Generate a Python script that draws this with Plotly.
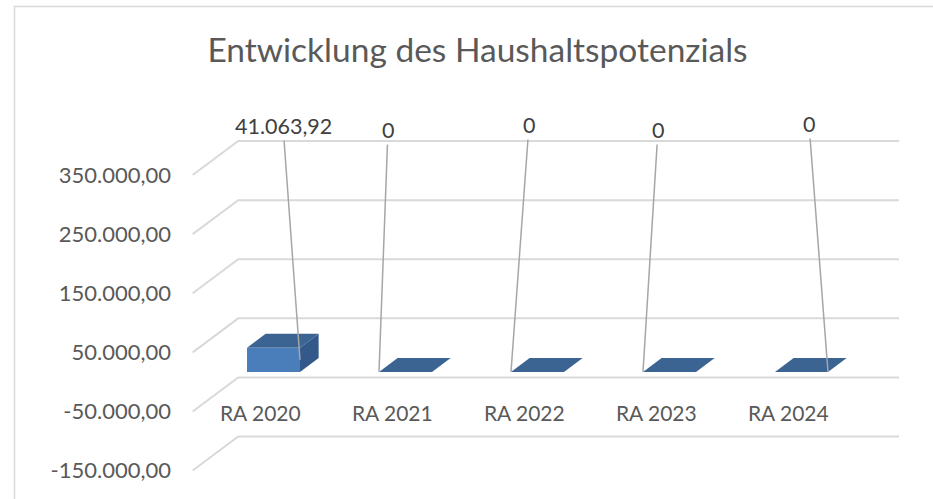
import plotly.graph_objects as go

# ---------------- data ----------------
categories = ["RA 2020", "RA 2021", "RA 2022", "RA 2023", "RA 2024"]
values = [41063.92, 0, 0, 0, 0]
value_labels = ["41.063,92", "0", "0", "0", "0"]
y_tick_values = [350000, 250000, 150000, 50000, -50000, -150000]
y_tick_labels = ["350.000,00", "250.000,00", "150.000,00", "50.000,00", "-50.000,00", "-150.000,00"]
title_text = "Entwicklung des Haushaltspotenzials"

# ---------------- layout constants ----------------
W, H = 933, 499
ML = 180
PX_PER_CAT = 132.0        # pixels per category step
PX_PER_VAL = 0.000591     # pixels per value unit
X0_PX = 260.3             # pixel x of category 0 (front plane)
Y0_PX = 381.9             # pixel y of value 0 (front plane)

x_range = [(ML - X0_PX) / PX_PER_CAT, (W - X0_PX) / PX_PER_CAT]
y_range = [(Y0_PX - H) / PX_PER_VAL, Y0_PX / PX_PER_VAL]

# 3D depth vector (full depth of the plot box) in data units
DEPTH_X = 45.5 / PX_PER_CAT
DEPTH_Y = 34.0 / PX_PER_VAL
GRID_X_LEFT = (192.7 - X0_PX) / PX_PER_CAT
GRID_X_RIGHT = (899.0 - X0_PX) / PX_PER_CAT

BAR_W = 53.0 / PX_PER_CAT
D_FRONT = 0.29
D_BACK = 0.70

FRONT_COLOR = "#4a7ebb"
TOP_COLOR = "#3c6493"
SIDE_COLOR = "#33588a"
GRID_COLOR = "#d9d9d9"
LEADER_COLOR = "#a6a6a6"
TEXT_COLOR = "#595959"
LABEL_COLOR = "#404040"
FONT = "Lato"

# data label placement: (pixel offset from bar front centre, pixel y of label centre)
LABEL_PLACEMENT = [(9.5, 126), (-17.5, 130), (-8.5, 125), (-11.5, 130), (7.5, 124)]


def px_x(xv):
    return X0_PX + xv * PX_PER_CAT


def px_y(yv):
    return Y0_PX - yv * PX_PER_VAL


def at_depth(x, y, d):
    return x + d * DEPTH_X, y + d * DEPTH_Y


fig = go.Figure()

# ---------------- gridlines (side wall + back wall) ----------------
gx, gy = [], []
for t in y_tick_values:
    bx, by = at_depth(GRID_X_LEFT, t, 1.0)
    gx += [GRID_X_LEFT, bx, GRID_X_RIGHT, None]
    gy += [t, by, by, None]
fig.add_trace(go.Scatter(x=gx, y=gy, mode="lines", line=dict(color=GRID_COLOR, width=2),
                         hoverinfo="skip", showlegend=False))

# ---------------- bars ----------------
# front faces
fig.add_trace(go.Bar(
    x=[i + D_FRONT * DEPTH_X for i in range(len(categories))],
    y=values,
    base=D_FRONT * DEPTH_Y,
    width=BAR_W,
    marker=dict(color=FRONT_COLOR, line=dict(width=0)),
    hoverinfo="skip", showlegend=False,
))

for i, v in enumerate(values):
    xl, xr = i - BAR_W / 2, i + BAR_W / 2
    # side face
    if v > 0:
        p = [at_depth(xr, 0, D_FRONT), at_depth(xr, v, D_FRONT), at_depth(xr, v, D_BACK), at_depth(xr, 0, D_BACK)]
        fig.add_trace(go.Scatter(x=[q[0] for q in p] + [p[0][0]], y=[q[1] for q in p] + [p[0][1]],
                                 mode="lines", fill="toself", fillcolor=SIDE_COLOR,
                                 line=dict(width=0, color=SIDE_COLOR), hoverinfo="skip", showlegend=False))
    # top face
    p = [at_depth(xl, v, D_FRONT), at_depth(xr, v, D_FRONT), at_depth(xr, v, D_BACK), at_depth(xl, v, D_BACK)]
    fig.add_trace(go.Scatter(x=[q[0] for q in p] + [p[0][0]], y=[q[1] for q in p] + [p[0][1]],
                             mode="lines", fill="toself", fillcolor=TOP_COLOR,
                             line=dict(width=0, color=TOP_COLOR), hoverinfo="skip", showlegend=False))

# ---------------- data labels with leader lines ----------------
annotations = []
for i, (v, txt) in enumerate(zip(values, value_labels)):
    dxl, ly = LABEL_PLACEMENT[i]
    fx, fy = at_depth(i, v / 2.0, D_FRONT)
    side = 1 if dxl > 0 else -1
    ax_x = fx + side * BAR_W / 2
    ax_y = fy
    label_px_x = px_x(fx) + dxl
    annotations.append(dict(
        x=ax_x, y=ax_y, xref="x", yref="y",
        ax=label_px_x - px_x(ax_x), ay=ly - px_y(ax_y), axref="pixel", ayref="pixel",
        text=txt, showarrow=True, arrowhead=0, arrowwidth=1.5, arrowcolor=LEADER_COLOR,
        standoff=0, startstandoff=0,
        font=dict(family=FONT, size=21.5, color=LABEL_COLOR),
    ))

# ---------------- chart border ----------------
shapes = [dict(type="rect", xref="paper", yref="paper",
               x0=(14.5 - ML) / (W - ML), x1=1.2, y0=-0.2, y1=1 - 6.5 / H,
               line=dict(color=GRID_COLOR, width=1.5), fillcolor="rgba(0,0,0,0)", layer="below")]

fig.update_layout(
    width=W, height=H,
    margin=dict(l=ML, r=0, t=0, b=0),
    paper_bgcolor="white", plot_bgcolor="white",
    title=dict(text=title_text, x=477.5 / W, y=1 - 50 / H, xanchor="center", yanchor="middle",
               xref="container", yref="container",
               font=dict(family=FONT, size=33.5, color=TEXT_COLOR)),
    xaxis=dict(range=x_range, tickvals=list(range(len(categories))), ticktext=categories,
               showgrid=False, zeroline=False, showline=False, ticks="",
               anchor="free", position=1 - 399 / H,
               tickfont=dict(family=FONT, size=21, color=TEXT_COLOR)),
    yaxis=dict(range=y_range, tickvals=y_tick_values, ticktext=y_tick_labels,
               showgrid=False, zeroline=False, showline=False, ticks="", ticklabelstandoff=8,
               tickfont=dict(family=FONT, size=22, color=TEXT_COLOR)),
    annotations=annotations,
    shapes=shapes,
    bargap=0,
)

fig.write_html("out.html", config={"displayModeBar": False},
               post_script="document.body.style.margin='0';document.body.style.padding='0';")
